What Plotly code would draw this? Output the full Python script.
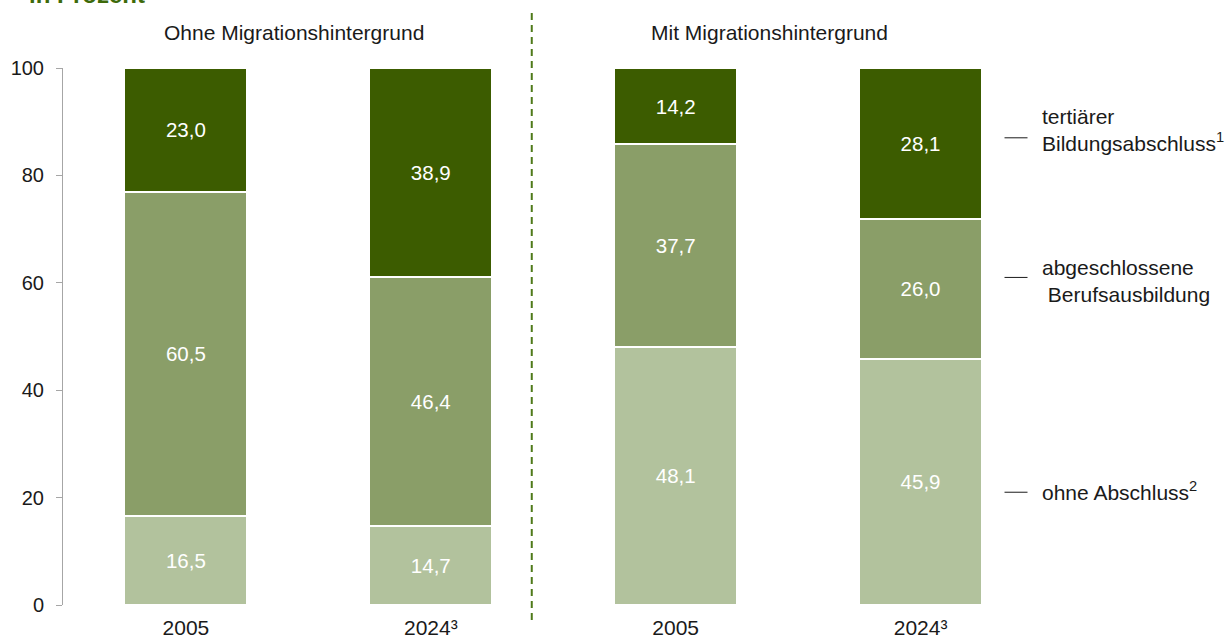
import plotly.graph_objects as go

# Bildungsabschluss nach Migrationshintergrund, Anteile in Prozent
years = ["2005", "2024³", "2005", "2024³"]
positions = [0, 1, 2, 3]
ohne_abschluss = [16.5, 14.7, 48.1, 45.9]
berufsausbildung = [60.5, 46.4, 37.7, 26.0]
tertiaer = [23.0, 38.9, 14.2, 28.1]

group_titles = ["Ohne Migrationshintergrund", "Mit Migrationshintergrund"]
series_names = ["ohne Abschluss<sup>2</sup>",
                "abgeschlossene<br>\u00a0Berufsausbildung",
                "tertiärer<br>Bildungsabschluss<sup>1</sup>"]
series_colors = ["#b2c29d", "#8a9e68", "#3c5c00"]
dash_y = [21, 61, 87]
label_y = [21.2, 60.4, 88.4]

FONT = "Liberation Sans, Arial, sans-serif"
SIZE = 21


def fmt(v):
    return f"{v:.1f}".replace(".", ",")


fig = go.Figure()
for vals, name, color in zip([ohne_abschluss, berufsausbildung, tertiaer],
                             series_names, series_colors):
    fig.add_trace(go.Bar(
        x=positions, y=vals, name=name,
        width=0.502,
        marker=dict(color=color, line=dict(color="white", width=2)),
        text=[fmt(v) for v in vals],
        textposition="inside", insidetextanchor="middle",
        textangle=0, constraintext="none",
        textfont=dict(color="white", size=20.5, family=FONT),
        hoverinfo="skip",
    ))

# series labels on the right with short leader dashes
for name, dy, ly in zip(series_names, dash_y, label_y):
    fig.add_shape(type="line", xref="paper", yref="y",
                  x0=(1005 - 63) / 980.5, x1=(1028 - 63) / 980.5,
                  y0=dy, y1=dy, line=dict(color="#1a1a1a", width=1))
    fig.add_annotation(xref="paper", yref="y", x=(1040 - 63) / 980.5, y=ly,
                       text=name, showarrow=False, xanchor="left", yanchor="middle",
                       align="left", font=dict(size=SIZE, family=FONT, color="#1a1a1a"))

# group headings
for title, xc in zip(group_titles, [294, 770]):
    fig.add_annotation(xref="paper", yref="paper", x=(xc - 63) / 980.5,
                       y=(605 - 32) / 537, text=title, showarrow=False,
                       xanchor="center", yanchor="middle",
                       font=dict(size=SIZE, family=FONT, color="#1a1a1a"))

# unit line at the top edge
fig.add_annotation(xref="paper", yref="paper", x=(27 - 63) / 980.5,
                   y=(605 + 5) / 537, text="<b>in Prozent</b>", showarrow=False,
                   xanchor="left", yanchor="middle",
                   font=dict(size=24, family=FONT, color="#3d6a0a"))

# dashed divider between the two groups
fig.add_shape(type="line", xref="paper", yref="paper",
              x0=(532 - 63) / 980.5, x1=(532 - 63) / 980.5,
              y0=(605 - 620) / 537, y1=(605 - 8) / 537,
              line=dict(color="#4f7a1a", width=2, dash="7px,5px"))

fig.update_layout(
    width=1228, height=639,
    margin=dict(l=63, r=184.5, t=68, b=34, pad=0, autoexpand=False),
    barmode="stack",
    showlegend=False,
    plot_bgcolor="white", paper_bgcolor="white",
    font=dict(family=FONT, size=SIZE, color="#1a1a1a"),
    xaxis=dict(range=[-0.502, 3.5], tickvals=positions, ticktext=years,
               showline=False, showgrid=False, zeroline=False, ticks="",
               tickfont=dict(size=SIZE), ticklabelstandoff=8, automargin=False),
    yaxis=dict(range=[0, 100], tickvals=[0, 20, 40, 60, 80, 100],
               showline=True, linecolor="#a6a6a6", linewidth=1,
               ticks="outside", ticklen=6, tickcolor="#a6a6a6",
               showgrid=False, zeroline=False, tickfont=dict(size=20),
               ticklabelstandoff=8, automargin=False),
)

fig.write_html("out.html")
